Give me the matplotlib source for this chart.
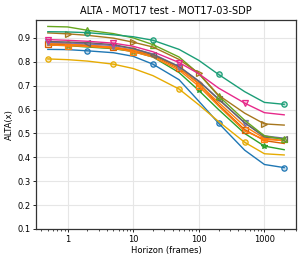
import numpy as np
import matplotlib
matplotlib.use("Agg")
import matplotlib.pyplot as plt

# horizons (frames)
horizons = [0.5, 1, 2, 5, 10, 20, 50, 100, 200, 500, 1000, 2000]

# one ALTA curve per tracker
alta_blue   = [0.852, 0.851, 0.846, 0.838, 0.823, 0.790, 0.725, 0.635, 0.543, 0.430, 0.370, 0.357]
alta_yellow = [0.812, 0.809, 0.803, 0.790, 0.772, 0.742, 0.686, 0.620, 0.550, 0.463, 0.415, 0.410]
alta_green  = [0.870, 0.868, 0.862, 0.855, 0.843, 0.820, 0.755, 0.680, 0.600, 0.500, 0.447, 0.432]
alta_orange = [0.870, 0.868, 0.864, 0.857, 0.842, 0.820, 0.765, 0.698, 0.615, 0.510, 0.475, 0.470]
alta_dorange = [0.875, 0.872, 0.868, 0.860, 0.847, 0.826, 0.772, 0.710, 0.620, 0.516, 0.470, 0.458]
alta_lorange = [0.878, 0.875, 0.870, 0.862, 0.850, 0.828, 0.775, 0.707, 0.630, 0.530, 0.480, 0.470]
alta_teal   = [0.926, 0.925, 0.922, 0.913, 0.905, 0.890, 0.852, 0.806, 0.747, 0.675, 0.630, 0.622]
alta_pink   = [0.893, 0.890, 0.886, 0.878, 0.865, 0.842, 0.797, 0.750, 0.690, 0.627, 0.587, 0.578]
alta_brown  = [0.921, 0.917, 0.911, 0.899, 0.882, 0.862, 0.810, 0.752, 0.660, 0.585, 0.540, 0.535]
alta_lime   = [0.948, 0.946, 0.932, 0.918, 0.900, 0.872, 0.820, 0.750, 0.657, 0.555, 0.490, 0.475]
alta_purple = [0.882, 0.879, 0.875, 0.868, 0.855, 0.833, 0.780, 0.720, 0.645, 0.544, 0.490, 0.480]
alta_grey   = [0.885, 0.883, 0.880, 0.872, 0.856, 0.830, 0.780, 0.718, 0.643, 0.545, 0.485, 0.478]

curves = [
    (alta_blue,    "#1f77b4", "o", 2),
    (alta_yellow,  "#e6ab02", "o", 0),
    (alta_green,   "#2ca02c", "*", 1),
    (alta_dorange, "#d95f02", "s", 0),
    (alta_orange,  "#ff7f0e", "s", 1),
    (alta_lorange, "#ff7f0e", "o", 1),
    (alta_purple,  "#7570b3", "v", 0),
    (alta_grey,    "#666666", "<", 2),
    (alta_lime,    "#66a61e", "^", 2),
    (alta_brown,   "#a6761d", ">", 1),
    (alta_pink,    "#e7298a", "v", 0),
    (alta_teal,    "#1b9e77", "o", 2),
]

fig = plt.figure(figsize=(3.05, 2.61), dpi=100)
ax = fig.add_axes([36/305, 1 - 229/261, 260/305, 209/261])

for vals, col, mk, off in curves:
    ax.plot(horizons, vals, color=col, lw=1.0, marker=mk, markevery=(off, 3),
            markersize=3.8, markerfacecolor=col + "40", markeredgecolor=col, markeredgewidth=0.9)

ax.set_xscale("log")
ax.set_ylim(0.1, 0.975)
ax.set_yticks(np.arange(0.1, 0.95, 0.1))
ax.set_xticks([1, 10, 100, 1000])
ax.set_xticklabels(["1", "10", "100", "1000"])
ax.grid(True, which="major", color="#e6e6e6", lw=0.8)
ax.set_axisbelow(True)
ax.tick_params(labelsize=6, length=2, width=0.6, pad=2)
ax.tick_params(which="minor", length=1.2, width=0.5)
for s in ax.spines.values():
    s.set_color("#333333")
    s.set_linewidth(0.9)

ax.set_title("ALTA - MOT17 test - MOT17-03-SDP", fontsize=7, pad=4)
ax.set_xlabel("Horizon (frames)", fontsize=6, labelpad=2)
ax.set_ylabel("ALTA(x)", fontsize=6, labelpad=2)

fig.savefig("out.png", dpi=100)
